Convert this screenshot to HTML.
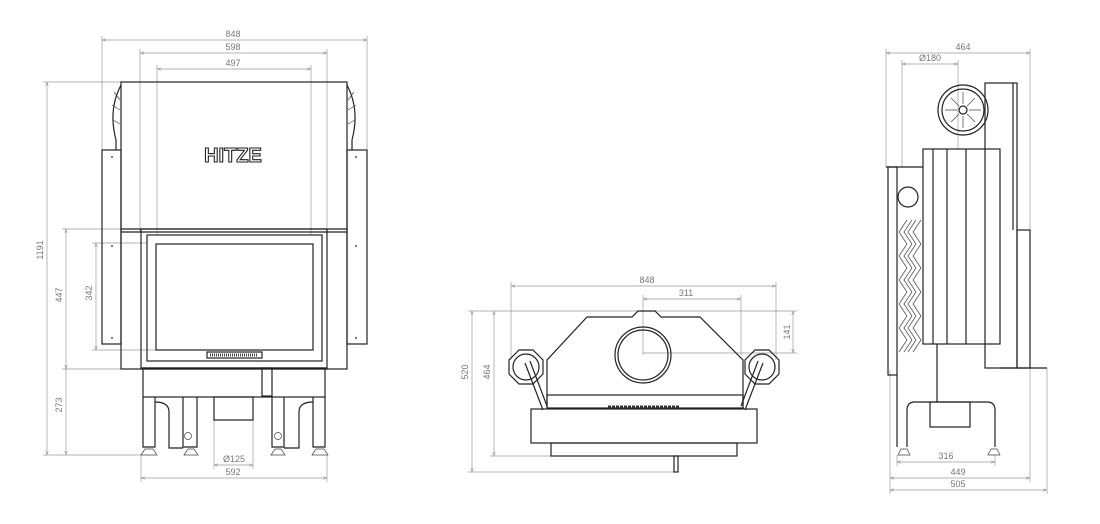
<!DOCTYPE html>
<html><head><meta charset="utf-8"><style>
html,body{margin:0;padding:0;background:#fff;}
svg{display:block;}
.d{stroke:#9a9a9a;stroke-width:0.7;fill:none;}
.o{stroke:#222;stroke-width:1.2;fill:none;}
.t{stroke:#444;stroke-width:0.7;fill:none;}
text{font-family:"Liberation Sans",sans-serif;font-size:9px;fill:#777;text-anchor:middle;}
</style></head><body>
<svg width="1100" height="524" viewBox="0 0 1100 524" xmlns="http://www.w3.org/2000/svg">
<defs>
<marker id="a" viewBox="0 0 6 6" refX="6" refY="3" markerWidth="6" markerHeight="6" orient="auto-start-reverse"><path d="M0,1 L6,3 L0,5" fill="none" stroke="#9a9a9a" stroke-width="0.8"/></marker>
</defs>

<!-- ===== FRONT VIEW ===== -->
<g class="d">
<line x1="102" y1="40" x2="367" y2="40" marker-start="url(#a)" marker-end="url(#a)"/>
<line x1="102" y1="36" x2="102" y2="150"/><line x1="367" y1="36" x2="367" y2="150"/>
<line x1="140" y1="53" x2="327" y2="53" marker-start="url(#a)" marker-end="url(#a)"/>
<line x1="140" y1="49" x2="140" y2="232"/><line x1="327" y1="49" x2="327" y2="232"/>
<line x1="157" y1="69" x2="311" y2="69" marker-start="url(#a)" marker-end="url(#a)"/>
<line x1="157" y1="65" x2="157" y2="235"/><line x1="311" y1="65" x2="311" y2="235"/>
<line x1="47" y1="82" x2="47" y2="455" marker-start="url(#a)" marker-end="url(#a)"/>
<line x1="43" y1="82" x2="121" y2="82"/><line x1="43" y1="455" x2="141" y2="455"/>
<line x1="66" y1="229" x2="66" y2="369" marker-start="url(#a)" marker-end="url(#a)"/>
<line x1="66" y1="369" x2="66" y2="455" marker-end="url(#a)"/>
<line x1="62" y1="229" x2="121" y2="229"/><line x1="62" y1="369" x2="141" y2="369"/>
<line x1="96" y1="243" x2="96" y2="350" marker-start="url(#a)" marker-end="url(#a)"/>
<line x1="92" y1="243" x2="147" y2="243"/><line x1="92" y1="350" x2="156" y2="350"/>
<line x1="214" y1="465" x2="253" y2="465" marker-start="url(#a)" marker-end="url(#a)"/>
<line x1="214" y1="420" x2="214" y2="469"/><line x1="253" y1="420" x2="253" y2="469"/>
<line x1="141" y1="478" x2="327" y2="478" marker-start="url(#a)" marker-end="url(#a)"/>
<line x1="141" y1="455" x2="141" y2="482"/><line x1="327" y1="455" x2="327" y2="482"/>
</g>
<text x="233" y="37">848</text><text x="233" y="50">598</text><text x="233" y="66">497</text>
<text transform="translate(43,250) rotate(-90)">1191</text>
<text transform="translate(62,295) rotate(-90)">447</text>
<text transform="translate(62,405) rotate(-90)">273</text>
<text transform="translate(92,293) rotate(-90)">342</text>
<text x="234" y="462">Ø125</text><text x="233" y="475">592</text>

<g class="o">
<rect x="121" y="82" width="226" height="287"/>
<line x1="121" y1="229" x2="347" y2="229"/><line x1="121" y1="232" x2="347" y2="232"/>
<rect x="102" y="150" width="19" height="194"/><rect x="347" y="150" width="20" height="194"/>
<path d="M121,85 Q108,110 116,140"/><path d="M347,85 Q360,110 352,140"/>
<line x1="116" y1="140" x2="116" y2="150"/><line x1="352" y1="140" x2="352" y2="150"/>
<rect x="141" y="229" width="186" height="140"/>
<rect x="147" y="235" width="175" height="126"/>
<rect x="156" y="244" width="157" height="106"/>
<rect x="207" y="352" width="55" height="6"/>
<line x1="141" y1="368" x2="327" y2="368"/>
<rect x="143" y="368" width="182" height="29"/>
<rect x="262" y="368" width="10" height="28"/>
<rect x="214" y="397" width="39" height="23"/>
<path d="M143,397 V447 H155 V397"/>
<path d="M183,397 V447 H197 V397"/>
<path d="M272,397 V447 H284 V397"/>
<path d="M313,397 V447 H325 V397"/>
<path d="M155,402 Q169,402 169,412 V448 H183"/>
<path d="M313,402 Q299,402 299,412 V448 H284"/>
</g>
<g class="t">
<path d="M114,92 L120,100 M112,105 L120,110 M113,120 L120,124 M354,92 L348,100 M356,105 L348,110 M355,120 L348,124"/>
<circle cx="188" cy="436" r="3.5"/><circle cx="278" cy="436" r="3.5"/>
<path d="M141,455 l4,-6 h8 l4,6 z M184,455 l4,-6 h6 l4,6 z M271,455 l4,-6 h6 l4,6 z M312,455 l4,-6 h8 l4,6 z"/>
<line x1="210" y1="355" x2="258" y2="355" stroke-dasharray="1 1" stroke-width="3"/>
</g>
<g fill="#222"><circle cx="112" cy="157" r="0.9"/><circle cx="112" cy="246" r="0.9"/><circle cx="112" cy="338" r="0.9"/><circle cx="356" cy="157" r="0.9"/><circle cx="356" cy="246" r="0.9"/><circle cx="356" cy="338" r="0.9"/></g>
<text x="233" y="162" style="font-size:20px;font-weight:bold;fill:#fff;stroke:#222;stroke-width:1.1;font-family:'Liberation Sans',sans-serif">HITZE</text>

<!-- ===== TOP VIEW ===== -->
<g class="d">
<line x1="511" y1="286" x2="776" y2="286" marker-start="url(#a)" marker-end="url(#a)"/>
<line x1="511" y1="282" x2="511" y2="360"/><line x1="776" y1="282" x2="776" y2="360"/>
<line x1="643" y1="299" x2="741" y2="299" marker-start="url(#a)" marker-end="url(#a)"/>
<line x1="643" y1="295" x2="643" y2="355"/><line x1="741" y1="295" x2="741" y2="355"/>
<line x1="793" y1="311" x2="793" y2="353" marker-start="url(#a)" marker-end="url(#a)"/>
<line x1="655" y1="311" x2="797" y2="311"/><line x1="643" y1="353" x2="797" y2="353"/>
<line x1="472" y1="311" x2="472" y2="472" marker-start="url(#a)" marker-end="url(#a)"/>
<line x1="494" y1="311" x2="494" y2="456" marker-start="url(#a)" marker-end="url(#a)"/>
<line x1="468" y1="311" x2="640" y2="311"/><line x1="490" y1="456" x2="551" y2="456"/><line x1="468" y1="472" x2="676" y2="472"/>
</g>
<text x="647" y="283">848</text><text x="686" y="296">311</text>
<text transform="translate(790,332) rotate(-90)">141</text>
<text transform="translate(468,372) rotate(-90)">520</text>
<text transform="translate(490,372) rotate(-90)">464</text>
<g class="o">
<path d="M547,408 V360 L587,317 H632 L638,311 H655 L661,317 H700 L743,360 V408"/>
<circle cx="643" cy="355" r="28"/><circle cx="643" cy="355" r="25"/>
<polygon points="519,350 533,350 543,360 543,374 533,384 519,384 509,374 509,360"/>
<circle cx="526" cy="367" r="13"/>
<polygon points="755,350 769,350 779,360 779,374 769,384 755,384 745,374 745,360"/>
<circle cx="762" cy="367" r="13"/>
<path d="M525,363 L543,410 M530,361 L547,406"/>
<path d="M763,363 L745,410 M758,361 L741,406"/>
<rect x="547" y="395" width="196" height="13"/>
<rect x="531" y="409" width="226" height="34"/>
<rect x="551" y="443" width="186" height="13"/>
<rect x="674" y="456" width="4" height="16"/>
</g>
<line x1="608" y1="407" x2="680" y2="407" stroke="#333" stroke-width="3" stroke-dasharray="3 1"/>

<!-- ===== SIDE VIEW ===== -->
<g class="d">
<line x1="886" y1="53" x2="1030" y2="53" marker-start="url(#a)" marker-end="url(#a)"/>
<line x1="886" y1="49" x2="886" y2="167"/><line x1="1030" y1="49" x2="1030" y2="230"/>
<line x1="902" y1="64" x2="958" y2="64" marker-start="url(#a)" marker-end="url(#a)"/>
<line x1="902" y1="60" x2="902" y2="167"/><line x1="958" y1="60" x2="958" y2="149"/>
<line x1="897" y1="462" x2="995" y2="462" marker-start="url(#a)" marker-end="url(#a)"/>
<line x1="890" y1="478" x2="1030" y2="478" marker-start="url(#a)" marker-end="url(#a)"/>
<line x1="890" y1="490" x2="1047" y2="490" marker-start="url(#a)" marker-end="url(#a)"/>
<line x1="890" y1="370" x2="890" y2="494"/><line x1="1047" y1="368" x2="1047" y2="494"/>
<line x1="1030" y1="368" x2="1030" y2="482"/><line x1="897" y1="455" x2="897" y2="466"/><line x1="995" y1="455" x2="995" y2="466"/>
</g>
<text x="963" y="50">464</text><text x="930" y="61">Ø180</text>
<text x="946" y="459">316</text><text x="958" y="475">449</text><text x="958" y="487">505</text>
<g class="o">
<circle cx="963" cy="110" r="25"/><circle cx="963" cy="110" r="21"/><circle cx="963" cy="110" r="4"/>
<rect x="985" y="83" width="32" height="285"/>
<line x1="1013" y1="83" x2="1013" y2="230"/>
<rect x="923" y="149" width="77" height="195"/>
<line x1="933" y1="149" x2="933" y2="344"/><line x1="947" y1="149" x2="947" y2="344"/><line x1="966" y1="149" x2="966" y2="344"/>
<rect x="888" y="167" width="9" height="208"/>
<line x1="886" y1="167" x2="923" y2="167"/>
<circle cx="908" cy="197" r="10"/>
<rect x="1017" y="230" width="13" height="138"/>
<line x1="1000" y1="368" x2="1047" y2="368"/>
<path d="M907,447 V410 Q907,402 915,402 H987 Q995,402 995,410 V447"/>
<line x1="937" y1="344" x2="937" y2="402"/>
<rect x="930" y="402" width="40" height="25"/>
<line x1="897" y1="375" x2="897" y2="447"/>
</g>
<g class="t">
<path d="M907,220 l-8,12 l8,12 l-8,12 l8,12 l-8,12 l8,12 l-8,12 l8,12 l-8,12 l8,12 l-8,12"/>
<path d="M912,220 l-8,12 l8,12 l-8,12 l8,12 l-8,12 l8,12 l-8,12 l8,12 l-8,12 l8,12 l-8,12"/>
<path d="M916,220 l-8,12 l8,12 l-8,12 l8,12 l-8,12 l8,12 l-8,12 l8,12 l-8,12 l8,12 l-8,12"/>
<path d="M921,220 l-8,12 l8,12 l-8,12 l8,12 l-8,12 l8,12 l-8,12 l8,12 l-8,12 l8,12 l-8,12"/>
<path d="M963,92 V104 M963,116 V128 M945,110 H957 M969,110 H981 M951,98 L959,106 M967,114 L975,122 M975,98 L967,106 M959,114 L951,122"/>
<path d="M898,455 l3,-6 h6 l3,6 z M988,455 l3,-6 h6 l3,6 z"/>
</g>
</svg>
</body></html>
